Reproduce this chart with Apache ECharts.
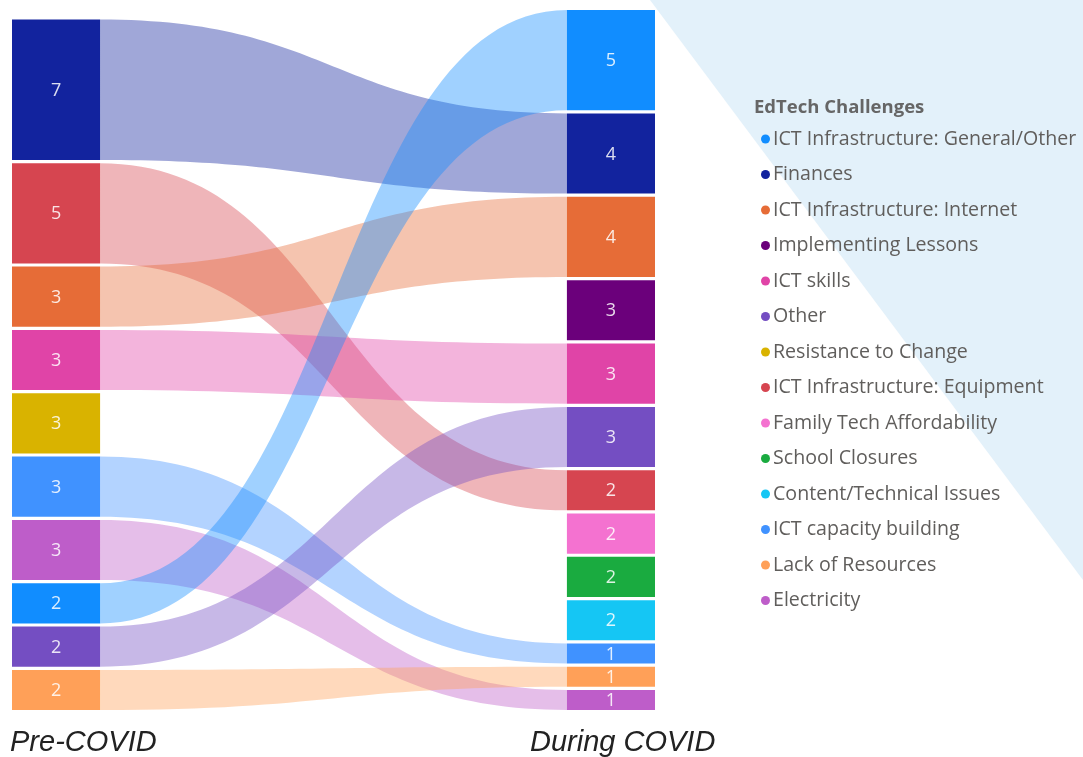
<!DOCTYPE html>
<html>
<head>
<meta charset="utf-8">
<script src="https://cdn.jsdelivr.net/npm/echarts@6/dist/echarts.min.js"></script>
<style>
  html, body { margin: 0; padding: 0; background: #fff; }
  #chart { width: 1083px; height: 757px; }
</style>
</head>
<body>
<div id="chart"></div>
<script>
// legend order + colours
const categories = [
  "ICT Infrastructure: General/Other",
  "Finances",
  "ICT Infrastructure: Internet",
  "Implementing Lessons",
  "ICT skills",
  "Other",
  "Resistance to Change",
  "ICT Infrastructure: Equipment",
  "Family Tech Affordability",
  "School Closures",
  "Content/Technical Issues",
  "ICT capacity building",
  "Lack of Resources",
  "Electricity",
];
const colors = [
  "#118dff", "#12239e", "#e66c37", "#6b007b", "#e044a7", "#744ec2", "#d9b300",
  "#d64550", "#f472d0", "#1aab40", "#15c6f4", "#4092ff", "#ffa058", "#be5dc9",
];

// Pre-COVID column (top to bottom)
const leftNodes = [
  "Finances",
  "ICT Infrastructure: Equipment",
  "ICT Infrastructure: Internet",
  "ICT skills",
  "Resistance to Change",
  "ICT capacity building",
  "Electricity",
  "ICT Infrastructure: General/Other",
  "Other",
  "Lack of Resources",
];
const leftValues = [7, 5, 3, 3, 3, 3, 3, 2, 2, 2];

// During COVID column (top to bottom)
const rightNodes = [
  "ICT Infrastructure: General/Other",
  "Finances",
  "ICT Infrastructure: Internet",
  "Implementing Lessons",
  "ICT skills",
  "Other",
  "ICT Infrastructure: Equipment",
  "Family Tech Affordability",
  "School Closures",
  "Content/Technical Issues",
  "ICT capacity building",
  "Lack of Resources",
  "Electricity",
];
const rightValues = [5, 4, 4, 3, 3, 3, 2, 2, 2, 2, 1, 1, 1];

const columnLabels = ["Pre-COVID", "During COVID"];

const GAP = 0.16;      // gap between nodes, in value units
const NODE_W = 0.137;  // node width as share of the x axis

function stack(values) {
  const out = [];
  let y = 0;
  values.forEach((v) => {
    out.push([y, y + v]);
    y += v + GAP;
  });
  return { spans: out, height: y - GAP };
}
const leftStack = stack(leftValues);
const rightStack = stack(rightValues);
const maxH = Math.max(leftStack.height, rightStack.height);
// both columns end on the same baseline
const leftOff = maxH - leftStack.height;
const rightOff = maxH - rightStack.height;

const nodeSeries = categories.map((name, ci) => {
  const data = [];
  leftNodes.forEach((n, i) => {
    if (n === name) {
      const s = leftStack.spans[i];
      data.push([0, s[0] + leftOff, s[1] + leftOff, leftValues[i]]);
    }
  });
  rightNodes.forEach((n, i) => {
    if (n === name) {
      const s = rightStack.spans[i];
      data.push([1, s[0] + rightOff, s[1] + rightOff, rightValues[i]]);
    }
  });
  return {
    name: name,
    type: "custom",
    coordinateSystem: "cartesian2d",
    itemStyle: { color: colors[ci] },
    z: 5,
    data: data,
    renderItem: (params, api) => {
      const col = api.value(0);
      const x0 = col === 0 ? 0 : 1 - NODE_W;
      const x1 = col === 0 ? NODE_W : 1;
      const p0 = api.coord([x0, api.value(1)]);
      const p1 = api.coord([x1, api.value(2)]);
      return {
        type: "group",
        children: [
          {
            type: "rect",
            shape: { x: p0[0], y: p0[1], width: p1[0] - p0[0], height: p1[1] - p0[1] },
            style: { fill: api.visual("color") },
          },
          {
            type: "text",
            style: {
              text: String(api.value(3)),
              x: (p0[0] + p1[0]) / 2,
              y: (p0[1] + p1[1]) / 2 + 1,
              align: "center",
              verticalAlign: "middle",
              fill: "rgba(255,255,255,0.85)",
              font: "18px 'Open Sans', sans-serif",
            },
          },
        ],
      };
    },
  };
});

// links join the same challenge across the two columns
const linkData = [];
leftNodes.forEach((n, i) => {
  const j = rightNodes.indexOf(n);
  if (j < 0) return;
  const a = leftStack.spans[i];
  const b = rightStack.spans[j];
  linkData.push({
    value: [a[0] + leftOff, a[1] + leftOff, b[0] + rightOff, b[1] + rightOff],
    itemStyle: { color: colors[categories.indexOf(n)] },
  });
});

const linkSeries = {
  type: "custom",
  coordinateSystem: "cartesian2d",
  z: 3,
  silent: true,
  data: linkData,
  renderItem: (params, api) => {
    const la = api.coord([NODE_W, api.value(0)]);
    const lb = api.coord([NODE_W, api.value(1)]);
    const ra = api.coord([1 - NODE_W, api.value(2)]);
    const rb = api.coord([1 - NODE_W, api.value(3)]);
    const xm = (la[0] + ra[0]) / 2;
    const d =
      `M${la[0]},${la[1]} C${xm},${la[1]} ${xm},${ra[1]} ${ra[0]},${ra[1]} ` +
      `L${rb[0]},${rb[1]} C${xm},${rb[1]} ${xm},${lb[1]} ${lb[0]},${lb[1]} Z`;
    return {
      type: "path",
      shape: { pathData: d },
      style: { fill: api.visual("color"), opacity: 0.4 },
    };
  },
};

const chart = echarts.init(document.getElementById("chart"));
chart.setOption({
  backgroundColor: "#fff",
  animation: false,
  title: {
    text: "EdTech Challenges",
    left: 749,
    top: 93,
    textStyle: { fontSize: 18.5, fontWeight: "bold", color: "#666", fontFamily: "'Open Sans', sans-serif" },
  },
  legend: {
    orient: "vertical",
    left: 756,
    top: 123,
    icon: "circle",
    itemWidth: 9,
    itemHeight: 9,
    itemGap: 13.5,
    data: categories,
    textStyle: { fontSize: 19.6, color: "#605e5c", lineHeight: 22, fontFamily: "'Open Sans', sans-serif", padding: [0, 0, 0, -2] },
  },
  graphic: [
    {
      type: "polygon",
      z: -10,
      silent: true,
      shape: { points: [[650, 0], [1083, 0], [1083, 580]] },
      style: { fill: "#e3f1fa" },
    },
    {
      type: "text",
      left: 10,
      top: 728,
      style: { text: columnLabels[0], font: "italic 29px 'Liberation Sans', Arial, sans-serif", fill: "#222" },
    },
    {
      type: "text",
      left: 530,
      top: 728,
      style: { text: columnLabels[1], font: "italic 29px 'Liberation Sans', Arial, sans-serif", fill: "#222" },
    },
  ],
  grid: { left: 12, right: 428, top: 10, bottom: 47 },
  xAxis: { type: "value", min: 0, max: 1, show: false },
  yAxis: { type: "value", min: 0, max: maxH, inverse: true, show: false },
  series: [linkSeries].concat(nodeSeries),
});
</script>
</body>
</html>
